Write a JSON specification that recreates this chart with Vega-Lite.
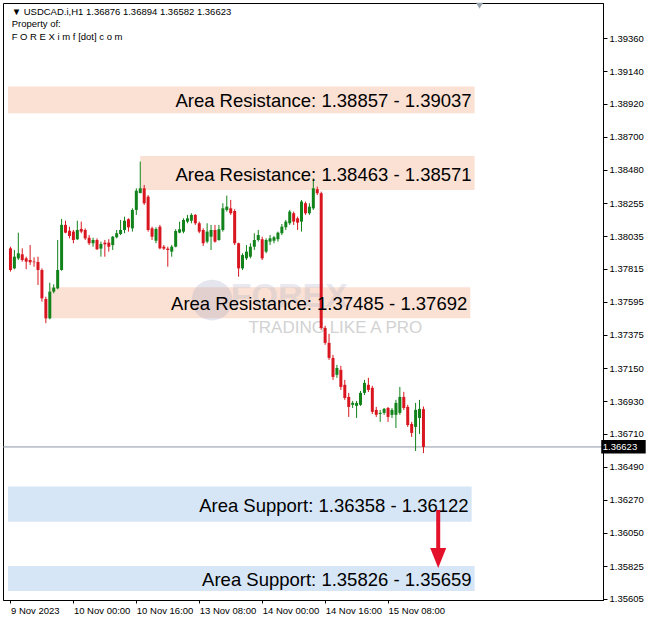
{
  "$schema": "https://vega.github.io/schema/vega-lite/v6.json",
  "width": 600,
  "height": 597,
  "autosize": {"type": "none"},
  "padding": {"left": 3, "top": 3, "right": 48, "bottom": 25},
  "background": "white",
  "config": {
    "view": {"stroke": "#000000", "strokeWidth": 1},
    "font": "Liberation Sans",
    "axis": {"labelFont": "Liberation Sans", "labelColor": "#000000", "domainColor": "#000000", "tickColor": "#000000", "grid": false, "title": null, "labelOverlap": false, "labelBound": false, "labelFlush": false},
    "axisY": {"labelOverlap": false, "labelFontSize": 9.5, "tickSize": 4, "labelPadding": 2},
    "axisX": {"labelOverlap": false, "labelFontSize": 9.5, "tickSize": 3, "labelPadding": 2}
  },
  "datasets": {
    "candles": [
      {"i":0,"o":1.37953,"h":1.37964,"l":1.37797,"c":1.37808},
      {"i":1,"o":1.37819,"h":1.37942,"l":1.37813,"c":1.37897},
      {"i":2,"o":1.37886,"h":1.38058,"l":1.37875,"c":1.37920},
      {"i":3,"o":1.37913,"h":1.37953,"l":1.37864,"c":1.37875},
      {"i":4,"o":1.37886,"h":1.37897,"l":1.37813,"c":1.37864},
      {"i":5,"o":1.37875,"h":1.37975,"l":1.37842,"c":1.37860},
      {"i":6,"o":1.37864,"h":1.37893,"l":1.37830,"c":1.37860},
      {"i":7,"o":1.37862,"h":1.37897,"l":1.37708,"c":1.37808},
      {"i":8,"o":1.37808,"h":1.37819,"l":1.37596,"c":1.37618},
      {"i":9,"o":1.37614,"h":1.37629,"l":1.37452,"c":1.37484},
      {"i":10,"o":1.37484,"h":1.37723,"l":1.37478,"c":1.37663},
      {"i":11,"o":1.37663,"h":1.37712,"l":1.37652,"c":1.37690},
      {"i":12,"o":1.37685,"h":1.38009,"l":1.37679,"c":1.37808},
      {"i":13,"o":1.37808,"h":1.38150,"l":1.37803,"c":1.38110},
      {"i":14,"o":1.38110,"h":1.38138,"l":1.38054,"c":1.38058},
      {"i":15,"o":1.38071,"h":1.38098,"l":1.38020,"c":1.38036},
      {"i":16,"o":1.38065,"h":1.38076,"l":1.37987,"c":1.38009},
      {"i":17,"o":1.38014,"h":1.38138,"l":1.38009,"c":1.38076},
      {"i":18,"o":1.38083,"h":1.38132,"l":1.38054,"c":1.38065},
      {"i":19,"o":1.38076,"h":1.38087,"l":1.38009,"c":1.38020},
      {"i":20,"o":1.38024,"h":1.38042,"l":1.37975,"c":1.37987},
      {"i":21,"o":1.37987,"h":1.38024,"l":1.37964,"c":1.38009},
      {"i":22,"o":1.38009,"h":1.38020,"l":1.37942,"c":1.37947},
      {"i":23,"o":1.37951,"h":1.37998,"l":1.37897,"c":1.37982},
      {"i":24,"o":1.37991,"h":1.38009,"l":1.37897,"c":1.37980},
      {"i":25,"o":1.37991,"h":1.38014,"l":1.37931,"c":1.37964},
      {"i":26,"o":1.37975,"h":1.38036,"l":1.37942,"c":1.38031},
      {"i":27,"o":1.38027,"h":1.38076,"l":1.38020,"c":1.38054},
      {"i":28,"o":1.38049,"h":1.38143,"l":1.38042,"c":1.38076},
      {"i":29,"o":1.38076,"h":1.38165,"l":1.38054,"c":1.38138},
      {"i":30,"o":1.38148,"h":1.38154,"l":1.38065,"c":1.38094},
      {"i":31,"o":1.38087,"h":1.38221,"l":1.38065,"c":1.38210},
      {"i":32,"o":1.38210,"h":1.38355,"l":1.38177,"c":1.38339},
      {"i":33,"o":1.38323,"h":1.38534,"l":1.38322,"c":1.38355},
      {"i":34,"o":1.38355,"h":1.38377,"l":1.38244,"c":1.38255},
      {"i":35,"o":1.38299,"h":1.38310,"l":1.38065,"c":1.38076},
      {"i":36,"o":1.38087,"h":1.38098,"l":1.38009,"c":1.38031},
      {"i":37,"o":1.38004,"h":1.38094,"l":1.37987,"c":1.38083},
      {"i":38,"o":1.38098,"h":1.38110,"l":1.37947,"c":1.37953},
      {"i":39,"o":1.37964,"h":1.37975,"l":1.37942,"c":1.37951},
      {"i":40,"o":1.37951,"h":1.37964,"l":1.37830,"c":1.37942},
      {"i":41,"o":1.37931,"h":1.37975,"l":1.37897,"c":1.37964},
      {"i":42,"o":1.37964,"h":1.38081,"l":1.37960,"c":1.38069},
      {"i":43,"o":1.38058,"h":1.38132,"l":1.38054,"c":1.38081},
      {"i":44,"o":1.38065,"h":1.38154,"l":1.38054,"c":1.38143},
      {"i":45,"o":1.38132,"h":1.38177,"l":1.38121,"c":1.38154},
      {"i":46,"o":1.38138,"h":1.38188,"l":1.38121,"c":1.38177},
      {"i":47,"o":1.38177,"h":1.38183,"l":1.38110,"c":1.38121},
      {"i":48,"o":1.38121,"h":1.38132,"l":1.38054,"c":1.38065},
      {"i":49,"o":1.38076,"h":1.38087,"l":1.37969,"c":1.37987},
      {"i":50,"o":1.37998,"h":1.38121,"l":1.37987,"c":1.38065},
      {"i":51,"o":1.38031,"h":1.38110,"l":1.37942,"c":1.38076},
      {"i":52,"o":1.38076,"h":1.38110,"l":1.37991,"c":1.37998},
      {"i":53,"o":1.38009,"h":1.38110,"l":1.38004,"c":1.38081},
      {"i":54,"o":1.38076,"h":1.38255,"l":1.38065,"c":1.38221},
      {"i":55,"o":1.38210,"h":1.38306,"l":1.38199,"c":1.38232},
      {"i":56,"o":1.38221,"h":1.38277,"l":1.38177,"c":1.38188},
      {"i":57,"o":1.38203,"h":1.38215,"l":1.37975,"c":1.37987},
      {"i":58,"o":1.37987,"h":1.37991,"l":1.37763,"c":1.37819},
      {"i":59,"o":1.37819,"h":1.37920,"l":1.37808,"c":1.37908},
      {"i":60,"o":1.37886,"h":1.37975,"l":1.37875,"c":1.37931},
      {"i":61,"o":1.37897,"h":1.37987,"l":1.37886,"c":1.37964},
      {"i":62,"o":1.37964,"h":1.38054,"l":1.37942,"c":1.38009},
      {"i":63,"o":1.38009,"h":1.38076,"l":1.37998,"c":1.38042},
      {"i":64,"o":1.38014,"h":1.38031,"l":1.37875,"c":1.37886},
      {"i":65,"o":1.37931,"h":1.38020,"l":1.37920,"c":1.38009},
      {"i":66,"o":1.37998,"h":1.38042,"l":1.37975,"c":1.38020},
      {"i":67,"o":1.38004,"h":1.38036,"l":1.37987,"c":1.38027},
      {"i":68,"o":1.38014,"h":1.38065,"l":1.37998,"c":1.38058},
      {"i":69,"o":1.38054,"h":1.38116,"l":1.38042,"c":1.38098},
      {"i":70,"o":1.38094,"h":1.38143,"l":1.38076,"c":1.38132},
      {"i":71,"o":1.38121,"h":1.38210,"l":1.38110,"c":1.38199},
      {"i":72,"o":1.38188,"h":1.38199,"l":1.38110,"c":1.38132},
      {"i":73,"o":1.38154,"h":1.38165,"l":1.38076,"c":1.38125},
      {"i":74,"o":1.38132,"h":1.38277,"l":1.38065,"c":1.38266},
      {"i":75,"o":1.38255,"h":1.38266,"l":1.38177,"c":1.38188},
      {"i":76,"o":1.38188,"h":1.38255,"l":1.38177,"c":1.38232},
      {"i":77,"o":1.38221,"h":1.38422,"l":1.38210,"c":1.38355},
      {"i":78,"o":1.38349,"h":1.38366,"l":1.38310,"c":1.38322},
      {"i":79,"o":1.38322,"h":1.38333,"l":1.37407,"c":1.37420},
      {"i":80,"o":1.37420,"h":1.37434,"l":1.37307,"c":1.37320},
      {"i":81,"o":1.37320,"h":1.37380,"l":1.37206,"c":1.37219},
      {"i":82,"o":1.37219,"h":1.37240,"l":1.37072,"c":1.37092},
      {"i":83,"o":1.37106,"h":1.37173,"l":1.37086,"c":1.37152},
      {"i":84,"o":1.37139,"h":1.37166,"l":1.37005,"c":1.37025},
      {"i":85,"o":1.37039,"h":1.37072,"l":1.36938,"c":1.36951},
      {"i":86,"o":1.36958,"h":1.36985,"l":1.36824,"c":1.36891},
      {"i":87,"o":1.36905,"h":1.36931,"l":1.36884,"c":1.36918},
      {"i":88,"o":1.36898,"h":1.36931,"l":1.36817,"c":1.36918},
      {"i":89,"o":1.36905,"h":1.36998,"l":1.36898,"c":1.36985},
      {"i":90,"o":1.36985,"h":1.37072,"l":1.36971,"c":1.37052},
      {"i":91,"o":1.37039,"h":1.37086,"l":1.36991,"c":1.37005},
      {"i":92,"o":1.37019,"h":1.37032,"l":1.36844,"c":1.36858},
      {"i":93,"o":1.36871,"h":1.36891,"l":1.36824,"c":1.36838},
      {"i":94,"o":1.36844,"h":1.36871,"l":1.36791,"c":1.36851},
      {"i":95,"o":1.36851,"h":1.36884,"l":1.36838,"c":1.36878},
      {"i":96,"o":1.36884,"h":1.36891,"l":1.36791,"c":1.36824},
      {"i":97,"o":1.36838,"h":1.36884,"l":1.36817,"c":1.36871},
      {"i":98,"o":1.36838,"h":1.36938,"l":1.36750,"c":1.36918},
      {"i":99,"o":1.36851,"h":1.37025,"l":1.36838,"c":1.36958},
      {"i":100,"o":1.36958,"h":1.36992,"l":1.36871,"c":1.36884},
      {"i":101,"o":1.36891,"h":1.36905,"l":1.36757,"c":1.36770},
      {"i":102,"o":1.36777,"h":1.36791,"l":1.36690,"c":1.36717},
      {"i":103,"o":1.36757,"h":1.36918,"l":1.36596,"c":1.36871},
      {"i":104,"o":1.36817,"h":1.36938,"l":1.36710,"c":1.36878},
      {"i":105,"o":1.36876,"h":1.36894,"l":1.36582,"c":1.36623}
    ],
    "zones": [
      {"kind":"res","lo":1.38857,"hi":1.39037,"x1":-0.625,"x2":118,"label":"Area Resistance: 1.38857 - 1.39037"},
      {"kind":"res","lo":1.38344,"hi":1.38571,"x1":33,"x2":118,"label":"Area Resistance: 1.38463 - 1.38571"},
      {"kind":"res","lo":1.37485,"hi":1.37692,"x1":10,"x2":116.9,"label":"Area Resistance: 1.37485 - 1.37692"},
      {"kind":"sup","lo":1.36122,"hi":1.36358,"x1":-0.625,"x2":117.25,"label":"Area Support: 1.36358 - 1.36122"},
      {"kind":"sup","lo":1.35659,"hi":1.35826,"x1":-0.625,"x2":118,"label":"Area Support: 1.35826 - 1.35659"}
    ],
    "header": [
      {"i":0.3,"p":1.39536,"t":"▼ USDCAD.i,H1  1.36876 1.36894 1.36582 1.36623"},
      {"i":0.3,"p":1.39456,"t":"Property of:"},
      {"i":0.3,"p":1.39369,"t":"F O R E X i m f [dot] c o m"}
    ],
    "last": [{"p":1.36623,"top":1.36670,"bot":1.36579,"x1":150.2,"x2":161.5,"tx":150.6,"t":"1.36623"}],
    "arrow": [{"i":108.75,"p1":1.36201,"p2":1.3594,"head":1.3588}],
    "marker": [{"i":119.25,"p":1.39578}],
    "wm": [{"i":51.25,"p":1.37607}],
    "wmbig": [{"i":56.0,"p":1.37627,"t":"FOREX"}],
    "wmsmall": [{"i":60.5,"p":1.3742,"t":"TRADING LIKE A PRO"}]
  },
  "layer": [
    {
      "data": {"name": "zones"},
      "mark": {"type": "rect"},
      "encoding": {
        "x": {"field": "x1", "type": "quantitative", "scale": {"domain": [-0.625, 149.375], "nice": false, "zero": false},
              "axis": {"orient": "bottom", "values": [0,16,32,48,64,80,96], "tickCount": 40,
                       "labelExpr": "['9 Nov 2023','10 Nov 00:00','10 Nov 16:00','13 Nov 08:00','14 Nov 00:00','14 Nov 16:00','15 Nov 08:00'][round(datum.value/16)]",
                       "labelAlign": "left", "labelBaseline": "top", "labelOverlap": false}},
        "x2": {"field": "x2"},
        "y": {"field": "lo", "type": "quantitative", "scale": {"domain": [1.35598, 1.39596], "nice": false, "zero": false},
              "axis": {"orient": "right", "tickCount": 40, "values": [1.35605,1.35825,1.3605,1.3627,1.3649,1.3671,1.3693,1.3715,1.37375,1.37595,1.37815,1.38035,1.38255,1.3848,1.387,1.3892,1.3914,1.3936],
                       "format": ".5f", "labelOverlap": false}},
        "y2": {"field": "hi"},
        "color": {"field": "kind", "type": "nominal", "scale": {"domain": ["res","sup"], "range": ["#fbe1d4","#d6e6f6"]}, "legend": null}
      }
    },
    {
      "data": {"name": "wm"},
      "mark": {"type": "point", "shape": "circle", "filled": true, "size": 1660, "color": "#a9a9c4", "opacity": 0.3},
      "encoding": {"x": {"field": "i", "type": "quantitative"}, "y": {"field": "p", "type": "quantitative"}}
    },
    {
      "data": {"name": "wmbig"},
      "mark": {"type": "text", "align": "left", "baseline": "middle", "font": "Liberation Sans", "fontWeight": "bold", "fontSize": 34, "color": "#b4b4c8", "opacity": 0.3},
      "encoding": {
        "x": {"field": "i", "type": "quantitative"},
        "y": {"field": "p", "type": "quantitative"},
        "text": {"field": "t"}
      }
    },
    {
      "data": {"name": "wmsmall"},
      "mark": {"type": "text", "align": "left", "baseline": "middle", "font": "Liberation Sans", "fontSize": 17, "color": "#d2d2d2"},
      "encoding": {
        "x": {"field": "i", "type": "quantitative"},
        "y": {"field": "p", "type": "quantitative"},
        "text": {"field": "t"}
      }
    },
    {
      "data": {"name": "last"},
      "mark": {"type": "rule", "color": "#8a97a3", "strokeWidth": 1},
      "encoding": {"y": {"field": "p", "type": "quantitative"}}
    },
    {
      "data": {"name": "candles"},
      "mark": {"type": "rule", "strokeWidth": 1},
      "encoding": {
        "x": {"field": "i", "type": "quantitative"},
        "y": {"field": "l", "type": "quantitative"},
        "y2": {"field": "h"},
        "color": {"condition": {"test": "datum.c >= datum.o", "value": "#12831a"}, "value": "#d9161f"}
      }
    },
    {
      "data": {"name": "candles"},
      "mark": {"type": "bar", "size": 3},
      "encoding": {
        "x": {"field": "i", "type": "quantitative"},
        "y": {"field": "o", "type": "quantitative"},
        "y2": {"field": "c"},
        "color": {"condition": {"test": "datum.c >= datum.o", "value": "#12831a"}, "value": "#d9161f"}
      }
    },
    {
      "data": {"name": "zones"},
      "transform": [{"calculate": "(datum.lo + datum.hi) / 2", "as": "mid"}],
      "mark": {"type": "text", "align": "right", "baseline": "middle", "fontSize": 18.5, "font": "Liberation Sans", "color": "#000000", "dx": -3, "dy": 1.5},
      "encoding": {
        "x": {"field": "x2", "type": "quantitative"},
        "y": {"field": "mid", "type": "quantitative"},
        "text": {"field": "label"}
      }
    },
    {
      "data": {"name": "arrow"},
      "mark": {"type": "rule", "color": "#e3122a", "strokeWidth": 4},
      "encoding": {
        "x": {"field": "i", "type": "quantitative"},
        "y": {"field": "p1", "type": "quantitative"},
        "y2": {"field": "p2"}
      }
    },
    {
      "data": {"name": "arrow"},
      "mark": {"type": "point", "shape": "M -0.8 -1 L 0.8 -1 L 0 1 Z", "filled": true, "size": 400, "color": "#e3122a", "opacity": 1},
      "encoding": {
        "x": {"field": "i", "type": "quantitative"},
        "y": {"field": "head", "type": "quantitative"}
      }
    },
    {
      "data": {"name": "marker"},
      "mark": {"type": "point", "shape": "triangle-down", "filled": true, "size": 50, "color": "#9aa3ad", "opacity": 1},
      "encoding": {
        "x": {"field": "i", "type": "quantitative"},
        "y": {"field": "p", "type": "quantitative"}
      }
    },
    {
      "data": {"name": "header"},
      "mark": {"type": "text", "align": "left", "baseline": "middle", "fontSize": 9.5, "font": "Liberation Sans", "color": "#000000"},
      "encoding": {
        "x": {"field": "i", "type": "quantitative"},
        "y": {"field": "p", "type": "quantitative"},
        "text": {"field": "t"}
      }
    },
    {
      "data": {"name": "last"},
      "mark": {"type": "rect", "color": "#000000"},
      "encoding": {
        "x": {"field": "x1", "type": "quantitative"},
        "x2": {"field": "x2"},
        "y": {"field": "bot", "type": "quantitative"},
        "y2": {"field": "top"}
      }
    },
    {
      "data": {"name": "last"},
      "mark": {"type": "text", "align": "left", "baseline": "middle", "fontSize": 9.5, "font": "Liberation Sans", "color": "#ffffff"},
      "encoding": {
        "x": {"field": "tx", "type": "quantitative"},
        "y": {"field": "p", "type": "quantitative"},
        "text": {"field": "t"}
      }
    }
  ]
}
